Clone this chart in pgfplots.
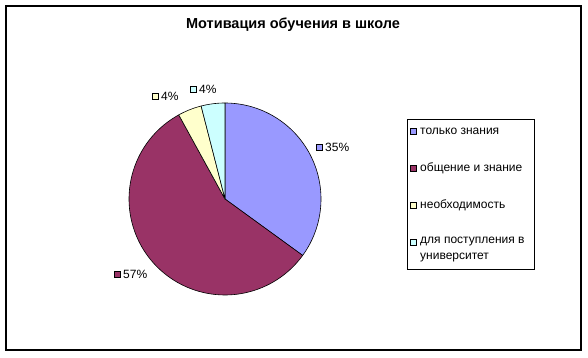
\documentclass[border=0pt]{standalone}
\usepackage{pgfplots}
\usepackage{pgfplotstable}
\pgfplotsset{compat=1.18}
\usepackage{fontspec}
\setmainfont{Liberation Sans}
\definecolor{pieA}{HTML}{9999FF}
\definecolor{pieB}{HTML}{993366}
\definecolor{pieC}{HTML}{FFFFCC}
\definecolor{pieD}{HTML}{CCFFFF}

\pgfplotstableread[col sep=comma]{
label,value,lx,ly
только знания,35,319,147
общение и знание,57,117,274
необходимость,4,155,96
для поступления в университет,4,193,89
}\piedata

\begin{document}
\begin{tikzpicture}
\begin{axis}[
  width=588pt, height=358pt, scale only axis,
  xmin=0, xmax=588, ymin=0, ymax=358, y dir=reverse,
  hide axis, clip=false,
]
\pgfplotsextra{
  \path (axis cs:0,0) rectangle (axis cs:588,358);
  \draw[line width=1.1pt] (axis cs:6,6) rectangle (axis cs:581,350);
  \node[font=\fontsize{14.5}{16}\selectfont\bfseries] at (axis cs:293,25) {Мотивация обучения в школе};
  \xdef\angstart{90}
  \foreach \i/\col in {0/pieA,1/pieB,2/pieC,3/pieD} {
    \pgfplotstablegetelem{\i}{value}\of\piedata
    \let\val\pgfplotsretval
    \pgfmathsetmacro\angend{\angstart-3.6*\val}
    \filldraw[fill=\col, draw=black, line width=0.6pt, line join=round]
      (axis cs:225,199) -- plot[domain=\angstart:\angend, samples=80]
      (axis cs:{225+96*cos(\x)},{199-96*sin(\x)}) -- cycle;
    \xdef\angstart{\angend}
    \pgfplotstablegetelem{\i}{lx}\of\piedata
    \let\lx\pgfplotsretval
    \pgfplotstablegetelem{\i}{ly}\of\piedata
    \let\ly\pgfplotsretval
    \filldraw[fill=\col, draw=black, line width=0.6pt] (axis cs:\lx-3,\ly-3) rectangle (axis cs:\lx+3,\ly+3);
    \node[anchor=west, inner sep=0pt, font=\fontsize{12}{14}\selectfont] at (axis cs:\lx+6,\ly) {\val\%};
  }
  % legend
  \draw[line width=0.8pt] (axis cs:407,119) rectangle (axis cs:534,269);
  \foreach \col/\y/\txt in {pieA/131/только знания, pieB/168/общение и знание, pieC/205/необходимость, pieD/242/для поступления в} {
    \filldraw[fill=\col, draw=black, line width=0.6pt] (axis cs:410,\y-3) rectangle (axis cs:416,\y+3);
    \node[anchor=west, inner sep=0pt, font=\fontsize{12}{14}\selectfont] at (axis cs:420,\y) {\txt};
  }
  \node[anchor=west, inner sep=0pt, font=\fontsize{12}{14}\selectfont] at (axis cs:420,258) {университет};
}
\end{axis}
\end{tikzpicture}
\end{document}
